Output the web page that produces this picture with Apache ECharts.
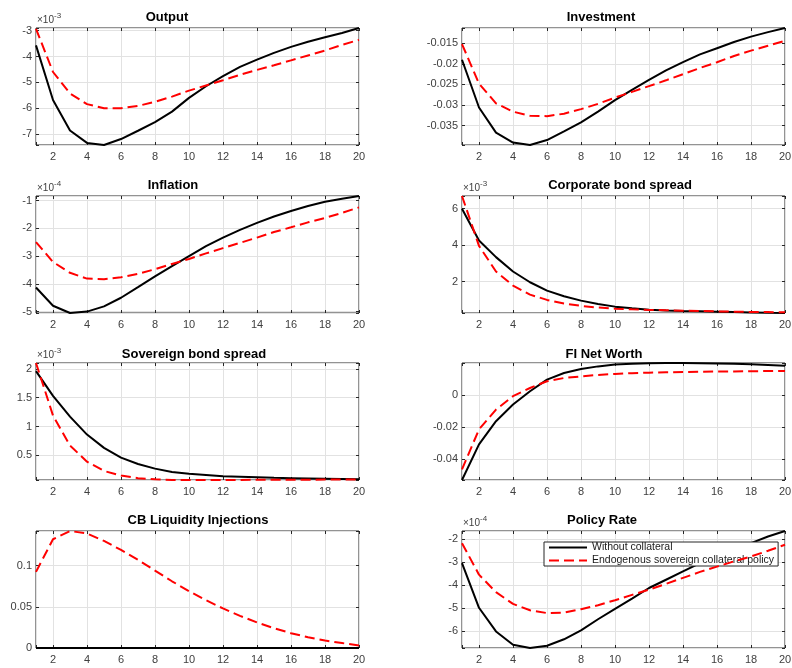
<!DOCTYPE html>
<html>
<head>
<meta charset="utf-8">
<script src="https://cdn.jsdelivr.net/npm/echarts@6/dist/echarts.min.js"></script>
<style>
html,body{margin:0;padding:0;background:#fff;}
#chart{width:792px;height:668px;}
</style>
</head>
<body>
<div id="chart"></div>
<script>
// Horizon (quarters)
const periods = [1,2,3,4,5,6,7,8,9,10,11,12,13,14,15,16,17,18,19,20];
const seriesNames = ['Without collateral', 'Endogenous sovereign collateral policy'];

// Output (x 1e-3)
const outputWithout = [-3.57,-5.68,-6.86,-7.34,-7.42,-7.19,-6.87,-6.54,-6.13,-5.60,-5.15,-4.76,-4.40,-4.12,-3.86,-3.63,-3.43,-3.26,-3.09,-2.90];
const outputEndog   = [-2.93,-4.60,-5.43,-5.84,-6.00,-6.00,-5.91,-5.75,-5.55,-5.32,-5.12,-4.92,-4.71,-4.52,-4.34,-4.15,-3.96,-3.77,-3.55,-3.36];
// Investment
const investWithout = [-0.0190,-0.0306,-0.0367,-0.0391,-0.0397,-0.0385,-0.0364,-0.0342,-0.0316,-0.0288,-0.0263,-0.0239,-0.0216,-0.0196,-0.0177,-0.0162,-0.0147,-0.0134,-0.0123,-0.0113];
const investEndog   = [-0.0152,-0.0248,-0.0296,-0.0316,-0.0326,-0.0327,-0.0321,-0.0310,-0.0297,-0.0282,-0.0268,-0.0254,-0.0240,-0.0225,-0.0210,-0.0196,-0.0181,-0.0168,-0.0156,-0.0144];
// Inflation (x 1e-4)
const inflWithout = [-4.13,-4.79,-5.05,-5.00,-4.81,-4.50,-4.12,-3.73,-3.36,-3.00,-2.64,-2.33,-2.05,-1.80,-1.57,-1.37,-1.19,-1.04,-0.93,-0.83];
const inflEndog   = [-2.49,-3.21,-3.60,-3.81,-3.83,-3.76,-3.64,-3.47,-3.28,-3.10,-2.90,-2.71,-2.52,-2.33,-2.13,-1.96,-1.78,-1.62,-1.44,-1.24];
// Corporate bond spread (x 1e-3)
const corpWithout = [6.00,4.25,3.34,2.55,1.96,1.50,1.19,0.95,0.77,0.62,0.53,0.45,0.41,0.38,0.36,0.34,0.32,0.30,0.28,0.27];
const corpEndog   = [6.70,3.96,2.55,1.78,1.28,0.99,0.79,0.66,0.57,0.51,0.47,0.44,0.42,0.40,0.38,0.36,0.34,0.33,0.32,0.31];
// Sovereign bond spread (x 1e-3)
const sovWithout = [1.96,1.53,1.17,0.86,0.63,0.46,0.35,0.27,0.21,0.18,0.16,0.14,0.13,0.12,0.11,0.105,0.10,0.095,0.09,0.085];
const sovEndog   = [2.10,1.19,0.67,0.39,0.23,0.15,0.105,0.085,0.075,0.073,0.073,0.074,0.075,0.076,0.077,0.078,0.079,0.080,0.081,0.082];
// FI Net Worth
const fiWithout = [-0.0528,-0.0307,-0.0163,-0.0060,0.0023,0.0095,0.0136,0.0161,0.0177,0.0188,0.0193,0.0196,0.0198,0.0198,0.0197,0.0195,0.0193,0.0190,0.0186,0.0181];
const fiEndog   = [-0.0462,-0.0214,-0.0091,-0.0008,0.0043,0.0085,0.0105,0.0115,0.0124,0.0130,0.0135,0.0138,0.0140,0.0142,0.0144,0.0145,0.0146,0.0147,0.0148,0.0148];
// CB Liquidity Injections
const cbWithout = [0,0,0,0,0,0,0,0,0,0,0,0,0,0,0,0,0,0,0,0];
const cbEndog   = [0.0924,0.132,0.142,0.139,0.130,0.119,0.107,0.094,0.081,0.069,0.058,0.048,0.039,0.031,0.024,0.018,0.013,0.009,0.006,0.003];
// Policy Rate (x 1e-4)
const policyWithout = [-3.04,-4.98,-6.01,-6.59,-6.73,-6.63,-6.35,-5.96,-5.48,-5.03,-4.58,-4.12,-3.76,-3.40,-3.04,-2.75,-2.46,-2.17,-1.88,-1.64];
const policyEndog   = [-2.17,-3.54,-4.30,-4.81,-5.09,-5.21,-5.19,-5.04,-4.87,-4.65,-4.42,-4.19,-3.94,-3.68,-3.42,-3.19,-2.96,-2.75,-2.50,-2.24];

// Panel descriptions: title, series, display scale (exponent), tick step in displayed units
const panels = [
  {title:'Output', a:outputWithout, b:outputEndog, scale:1e-3, exp:'-3', step:1},
  {title:'Investment', a:investWithout, b:investEndog, scale:1, exp:null, step:0.005},
  {title:'Inflation', a:inflWithout, b:inflEndog, scale:1e-4, exp:'-4', step:1},
  {title:'Corporate bond spread', a:corpWithout, b:corpEndog, scale:1e-3, exp:'-3', step:2},
  {title:'Sovereign bond spread', a:sovWithout, b:sovEndog, scale:1e-3, exp:'-3', step:0.5},
  {title:'FI Net Worth', a:fiWithout, b:fiEndog, scale:1, exp:null, step:0.02},
  {title:'CB Liquidity Injections', a:cbWithout, b:cbEndog, scale:1, exp:null, step:0.05},
  {title:'Policy Rate', a:policyWithout, b:policyEndog, scale:1e-4, exp:'-4', step:1}
];

// Layout
const gridLefts = [36, 462];
const gridTops = [28, 196, 363, 531];
const gridW = 323, gridH = 117;
const titleCenters = [167, 601, 173, 620, 194, 604, 198, 602];
const titleTops = [11, 11, 179, 179, 348, 348, 514, 514];

const FONT = '"Liberation Sans", Arial, Helvetica, sans-serif';
const LABEL_COLOR = '#404040';
const BOX_COLOR = '#262626';
const GRID_COLOR = '#e2e2e2';

function isMultiple(v, step) {
  const r = v / step;
  return Math.abs(r - Math.round(r)) < 1e-6;
}
function fmt(x) {
  if (Math.abs(x) < 1e-12) return '0';
  return String(parseFloat(x.toFixed(6)));
}

const grids = [], xAxes = [], yAxes = [], series = [], titles = [], graphics = [];
const tickStyle = {show: true, inside: true, length: 3, lineStyle: {color: BOX_COLOR}};
const noLine = {show: false, onZero: false};

panels.forEach((p, i) => {
  const col = i % 2, row = Math.floor(i / 2);
  const gl = gridLefts[col], gt = gridTops[row];
  const all = p.a.concat(p.b).map(v => v * p.scale);
  const yMin = Math.min.apply(null, all), yMax = Math.max.apply(null, all);
  const stepTrue = p.step * p.scale;
  grids.push({
    left: gl, top: gt, width: gridW, height: gridH,
    show: true, borderColor: BOX_COLOR, borderWidth: 1, backgroundColor: '#fff',
    containLabel: false, outerBoundsMode: 'none'
  });
  // bottom x axis (labels + grid) and mirrored top axis (ticks only)
  xAxes.push({
    type: 'value', gridIndex: i, position: 'bottom', min: 1, max: 20, minInterval: 2, maxInterval: 2,
    axisLine: noLine, axisTick: tickStyle,
    axisLabel: {
      show: true, margin: 6, fontSize: 11, color: LABEL_COLOR, fontFamily: FONT, hideOverlap: false,
      formatter: v => isMultiple(v, 2) ? String(Math.round(v)) : ''
    },
    splitLine: {show: true, lineStyle: {color: GRID_COLOR, width: 1}}
  });
  xAxes.push({
    type: 'value', gridIndex: i, position: 'top', min: 1, max: 20, minInterval: 2, maxInterval: 2,
    axisLine: noLine, axisTick: tickStyle, axisLabel: {show: false}, splitLine: {show: false}
  });
  yAxes.push({
    type: 'value', gridIndex: i, position: 'left', min: yMin, max: yMax,
    minInterval: stepTrue, maxInterval: stepTrue,
    axisLine: noLine, axisTick: tickStyle,
    axisLabel: {
      show: true, margin: 4, fontSize: 11, color: LABEL_COLOR, fontFamily: FONT, hideOverlap: false,
      formatter: v => isMultiple(v, stepTrue) ? fmt(v / p.scale) : ''
    },
    splitLine: {show: true, lineStyle: {color: GRID_COLOR, width: 1}}
  });
  yAxes.push({
    type: 'value', gridIndex: i, position: 'right', min: yMin, max: yMax,
    minInterval: stepTrue, maxInterval: stepTrue,
    axisLine: noLine, axisTick: tickStyle, axisLabel: {show: false}, splitLine: {show: false}
  });
  series.push({
    type: 'line', name: seriesNames[0], xAxisIndex: 2 * i, yAxisIndex: 2 * i,
    data: periods.map((x, k) => [x, p.a[k] * p.scale]),
    symbol: 'none', showSymbol: false, smooth: false,
    lineStyle: {color: '#000000', width: 2},
    itemStyle: {color: '#000000'},
    z: 3
  });
  series.push({
    type: 'line', name: seriesNames[1], xAxisIndex: 2 * i, yAxisIndex: 2 * i,
    data: periods.map((x, k) => [x, p.b[k] * p.scale]),
    symbol: 'none', showSymbol: false, smooth: false,
    lineStyle: {color: '#ff0000', width: 2, type: [10, 5]},
    itemStyle: {color: '#ff0000'},
    z: 4
  });
  titles.push({
    text: p.title, left: titleCenters[i], top: titleTops[i], textAlign: 'center', padding: 0,
    textStyle: {fontSize: 13, fontWeight: 'bold', color: '#000', fontFamily: FONT}
  });
  if (p.exp) {
    graphics.push({
      type: 'text', left: gl + 1, top: gt - 13,
      style: {text: '\u00d710', fontSize: 10, fill: LABEL_COLOR, fontFamily: FONT}
    });
    graphics.push({
      type: 'text', left: gl + 18, top: gt - 16,
      style: {text: p.exp, fontSize: 8, fill: LABEL_COLOR, fontFamily: FONT}
    });
  }
});

const chart = echarts.init(document.getElementById('chart'), null, {renderer: 'canvas'});
chart.setOption({
  animation: false,
  backgroundColor: '#ffffff',
  title: titles,
  grid: grids,
  xAxis: xAxes,
  yAxis: yAxes,
  series: series,
  graphic: graphics,
  legend: {
    data: seriesNames, orient: 'vertical', left: 544, top: 542,
    backgroundColor: '#ffffff', borderColor: BOX_COLOR, borderWidth: 1, borderRadius: 0,
    padding: [0, 4, 0, 4], itemGap: 2, itemWidth: 38, itemHeight: 12,
    selectedMode: false,
    itemStyle: {opacity: 0},
    textStyle: {fontSize: 10.5, color: '#1a1a1a', fontFamily: FONT}
  }
});
</script>
</body>
</html>
